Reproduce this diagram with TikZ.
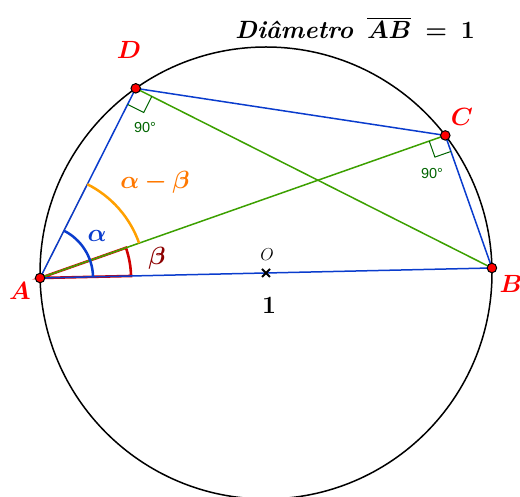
\documentclass[tikz,border=0pt]{standalone}
\usepackage{amsmath,bm}
\usepackage{fontspec}
\newfontfamily\sansf{Liberation Sans}
\usetikzlibrary{calc}
\definecolor{lblue}{RGB}{10,60,205}
\definecolor{lgreen}{RGB}{60,160,0}
\definecolor{dgreen}{RGB}{0,100,0}
\definecolor{lorange}{RGB}{255,160,0}
\definecolor{torange}{RGB}{255,120,0}
\definecolor{sred}{RGB}{210,0,0}
\definecolor{dred}{RGB}{140,0,0}
\tikzset{
  circ/.style={black, line width=1.5pt},
  bline/.style={lblue, line width=1.5pt},
  gline/.style={lgreen, line width=1.5pt},
  rmark/.style={dgreen, line width=1pt},
  pt/.style={circle, fill=red, draw=black, line width=1pt, inner sep=0pt, minimum size=9.5pt},
  ptlabel/.style={red, font=\fontsize{27}{32}\selectfont},
  deg/.style={dgreen, font=\sansf\fontsize{14.5}{17}\selectfont},
}
\begin{document}
\begin{tikzpicture}[x=1pt,y=1pt]
\useasboundingbox (0,0) rectangle (520,497);
\coordinate (O) at (266,224);
\coordinate (A) at ($(O)+(181.27:226)$);
\coordinate (B) at ($(O)+(1.27:226)$);
\coordinate (C) at ($(O)+(37.5:226)$);
\coordinate (D) at ($(O)+(125.2:226)$);
\begin{scope}
  \clip (0,0) rectangle (520,497);
  \draw[circ] (O) circle[radius=226];
\end{scope}
% sectors
\draw[sred, line width=2.6pt] (A) -- ($(A)+(1.27:91)$) arc[start angle=1.27, end angle=19.39, radius=91] -- cycle;
\draw[lorange, line width=1pt] (A) -- ($(A)+(19.39:105)$);
\draw[lorange, line width=1pt] (A) -- ($(A)+(63.24:105)$);
% lines
\draw[bline] (A) -- (B);
\draw[bline] (A) -- (D);
\draw[bline] (D) -- (C);
\draw[bline] (C) -- (B);
\draw[gline] (A) -- (C);
\draw[gline] (D) -- (B);
% arcs
\draw[lorange, line width=2.5pt] ($(A)+(19.39:105)$) arc[start angle=19.39, end angle=63.24, radius=105];
\draw[lblue, line width=2.5pt] ($(A)+(1.27:53)$) arc[start angle=1.27, end angle=63.24, radius=53];
% right angle marks
\coordinate (d1) at ($(D)!18pt!(A)$);
\coordinate (d2) at ($(D)!18pt!(B)$);
\coordinate (d3) at ($(d1)+(d2)-(D)$);
\draw[rmark] (d1) -- (d3) -- (d2);
\coordinate (c1) at ($(C)!17pt!(A)$);
\coordinate (c2) at ($(C)!17pt!(B)$);
\coordinate (c3) at ($(c1)+(c2)-(C)$);
\draw[rmark] (c1) -- (c3) -- (c2);
% center mark
\draw[black, line width=1.8pt] ($(O)+(-4,-4)$) -- ($(O)+(4,4)$);
\draw[black, line width=1.8pt] ($(O)+(-4,4)$) -- ($(O)+(4,-4)$);
% points
\node[pt] (pA) at (A) {};
\node[pt] (pB) at (B) {};
\node[pt] (pC) at (C) {};
\node[pt] (pD) at (D) {};
% labels
\node[ptlabel] (lA) at (20,206) {$\bm{A}$};
\node[ptlabel] (lB) at (511,213) {$\bm{B}$};
\node[ptlabel] (lC) at (462,380) {$\bm{C}$};
\node[ptlabel] (lD) at (129,447) {$\bm{D}$};
\node[font=\fontsize{16}{19}\selectfont] (lO) at (267,242) {$O$};
\node[font=\fontsize{25}{30}\selectfont] (l1) at (269,192) {$\bm{1}$};
\node[lblue, font=\fontsize{27}{32}\selectfont] (lal) at (97,261) {$\bm{\alpha}$};
\node[dred, font=\fontsize{27}{32}\selectfont] (lbe) at (157,239) {$\bm{\beta}$};
\node[torange, font=\fontsize{27}{32}\selectfont] (lab) at (155,315) {$\bm{\alpha-\beta}$};
\node[deg] (g1) at (145,369) {90°};
\node[deg] (g2) at (432,323) {90°};
\node[font=\fontsize{25}{30}\selectfont] (title) at (355,469) {\textbf{\textit{Diâmetro}}\;\;$\bm{\overline{AB}\;=\;1}$};
\end{tikzpicture}
\end{document}
